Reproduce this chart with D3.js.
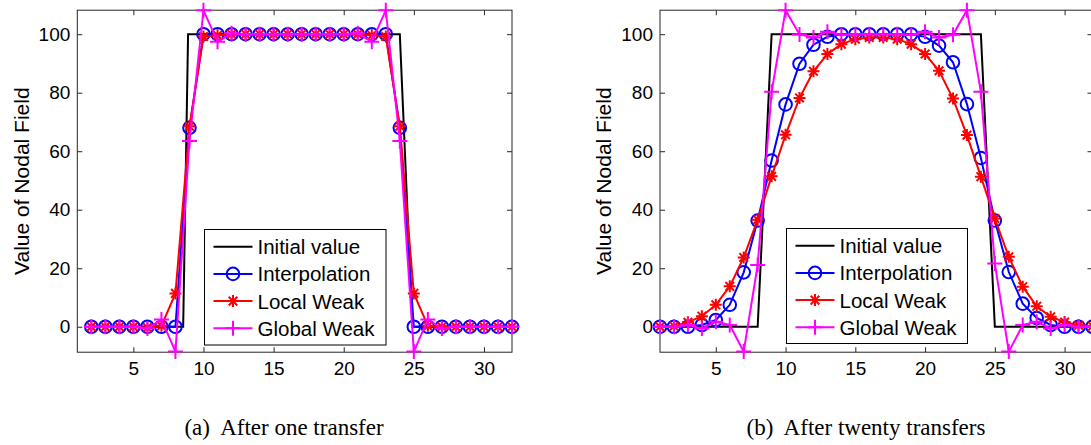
<!DOCTYPE html>
<html>
<head>
<meta charset="utf-8">
<script src="https://cdn.jsdelivr.net/npm/d3@7"></script>
<style>
  body { margin: 0; background: #fff; }
  svg { display: block; }
  .tick text { font-family: "Liberation Sans", Arial, Helvetica, sans-serif; font-size: 19px; fill: #000; }
  .tick line { stroke: #262626; }
</style>
</head>
<body>
<svg id="chart" width="1091" height="445"></svg>
<script>
// ---- data ----
var seriesNames = ["Initial value", "Interpolation", "Local Weak", "Global Weak"];
var xTicks = [5, 10, 15, 20, 25, 30];
var yTicks = [0, 20, 40, 60, 80, 100];
var captions = ["(a)  After one transfer", "(b)  After twenty transfers"];

// (a) after one transfer, nodes 2..32
var nodesA = d3.range(2, 33);
var initXA = [2, 8.55, 8.9, 24, 24.9, 32];
var initYA = [0, 0, 100, 100, 0, 0];
var interpA = [0, 0, 0, 0, 0, 0, 0, 68, 100, 100, 100, 100, 100, 100, 100, 100, 100, 100, 100, 100, 100, 100, 68, 0, 0, 0, 0, 0, 0, 0, 0];
var localA = [0, 0, 0, 0, -0.3, 0.3, 11.4, 68.5, 99.2, 99.6, 100, 100, 100, 100, 100, 100, 100, 100, 100, 100, 99.6, 99.2, 68.5, 11.4, 0.3, 0, 0, 0, 0, 0, 0];
var globalA = [0, 0, 0, 0, -0.6, 2.5, -8.5, 63.5, 108.2, 97.4, 100.3, 100, 100, 100, 100, 100, 100, 100, 100, 100.3, 97.4, 108.2, 63.5, -8.5, 2.5, -0.6, 0, 0, 0, 0, 0];

// (b) after twenty transfers, nodes 1..32
var nodesB = d3.range(1, 33);
var initXB = [1, 8, 9, 24, 25, 32];
var initYB = [0, 0, 100, 100, 0, 0];
var interpB = [0, 0, 0, 0.6, 2.3, 7.5, 18.6, 36.3, 56.8, 76, 89.9, 96.4, 99.1, 100, 100, 100, 100, 100, 100, 99.1, 96.1, 90.4, 76.1, 57.7, 36.3, 18.7, 7.9, 3, 0.6, 0, 0, 0];
var localB = [0, 0.2, 1.5, 3.6, 7.5, 13.8, 23.7, 36.6, 51.4, 65.6, 78.2, 87.3, 93.2, 96.6, 98.3, 98.9, 98.9, 98.3, 96.6, 93.2, 87.5, 78, 65.5, 51.3, 37, 23.9, 13.7, 7, 3.4, 1.6, 0.5, 0.2];
var globalB = [0, 0, 0.6, -0.6, 1.7, 0.6, -8.5, 21.1, 80.3, 108.2, 99.9, 98.9, 100.8, 99.8, 100, 100, 100, 100, 99.8, 100.8, 98.9, 99.8, 108.2, 80.3, 21.6, -8.5, 0.6, 1.7, -0.6, 0.6, 0, 0];

var colors = ["#000000", "#0000ff", "#ff0000", "#ff00ff"];
var markers = [null, "circle", "star", "plus"];

var svg = d3.select("#chart");

var panels = [
  { left: 77.3, right: 512, top: 10.2, bottom: 352.2, nodes: nodesA, initX: initXA, initY: initYA,
    series: [interpA, localA, globalA], legend: [204.5, 229.5, 181.5, 115.5], labelX: 21, cap: 284 },
  { left: 660, right: 1092.5, top: 10.2, bottom: 352.2, nodes: nodesB, initX: initXB, initY: initYB,
    series: [interpB, localB, globalB], legend: [786.5, 228.5, 181, 115], labelX: 603, cap: 866 }
];

function drawMarker(g, type, cx, cy, color) {
  if (type == "circle") {
    g.append("circle").attr("cx", cx).attr("cy", cy).attr("r", 6.3)
      .attr("fill", "none").attr("stroke", color).attr("stroke-width", 2);
  } else if (type == "star") {
    var s = 6, d = s * 0.72;
    g.append("path")
      .attr("d", "M" + (cx - s) + "," + cy + "H" + (cx + s) + "M" + cx + "," + (cy - s) + "V" + (cy + s) +
        "M" + (cx - d) + "," + (cy - d) + "L" + (cx + d) + "," + (cy + d) +
        "M" + (cx - d) + "," + (cy + d) + "L" + (cx + d) + "," + (cy - d))
      .attr("stroke", color).attr("stroke-width", 2).attr("fill", "none");
  } else if (type == "plus") {
    var p = 7.5;
    g.append("path")
      .attr("d", "M" + (cx - p) + "," + cy + "H" + (cx + p) + "M" + cx + "," + (cy - p) + "V" + (cy + p))
      .attr("stroke", color).attr("stroke-width", 2).attr("fill", "none");
  }
}

panels.forEach(function(p, pi) {
  var x = d3.scaleLinear().domain([1, 32]).range([p.left, p.right]);
  var y = d3.scaleLinear().domain([-8.7, 108.2]).range([p.bottom, p.top]);
  var g = svg.append("g");

  // axes with inward ticks on all four sides
  g.append("g").attr("transform", "translate(0," + p.bottom + ")")
    .call(d3.axisBottom(x).tickValues(xTicks).tickSizeInner(-5).tickSizeOuter(0).tickPadding(9))
    .call(function(a) { a.select(".domain").remove(); });
  g.append("g").attr("transform", "translate(0," + p.top + ")")
    .call(d3.axisTop(x).tickValues(xTicks).tickSizeInner(-5).tickSizeOuter(0).tickFormat(""))
    .call(function(a) { a.select(".domain").remove(); });
  g.append("g").attr("transform", "translate(" + p.left + ",0)")
    .call(d3.axisLeft(y).tickValues(yTicks).tickSizeInner(-5).tickSizeOuter(0).tickPadding(7))
    .call(function(a) { a.select(".domain").remove(); });
  g.append("g").attr("transform", "translate(" + p.right + ",0)")
    .call(d3.axisRight(y).tickValues(yTicks).tickSizeInner(-5).tickSizeOuter(0).tickFormat(""))
    .call(function(a) { a.select(".domain").remove(); });

  g.append("rect").attr("x", p.left).attr("y", p.top)
    .attr("width", p.right - p.left).attr("height", p.bottom - p.top)
    .attr("fill", "none").attr("stroke", "#262626").attr("stroke-width", 1);

  var line = d3.line().x(function(d) { return x(d[0]); }).y(function(d) { return y(d[1]); });

  // initial value
  g.append("path").datum(d3.zip(p.initX, p.initY)).attr("d", line)
    .attr("fill", "none").attr("stroke", colors[0]).attr("stroke-width", 2);

  p.series.forEach(function(vals, si) {
    var pts = d3.zip(p.nodes, vals);
    var c = colors[si + 1];
    g.append("path").datum(pts).attr("d", line)
      .attr("fill", "none").attr("stroke", c).attr("stroke-width", 2);
    var mg = g.append("g");
    pts.forEach(function(d) { drawMarker(mg, markers[si + 1], x(d[0]), y(d[1]), c); });
  });

  // y label
  g.append("text")
    .attr("transform", "translate(" + p.labelX + "," + ((p.top + p.bottom) / 2) + ") rotate(-90)")
    .attr("text-anchor", "middle").attr("dominant-baseline", "central")
    .style("font-family", "Liberation Sans, Arial, sans-serif").style("font-size", "21px")
    .text("Value of Nodal Field");

  // legend
  var L = p.legend;
  var lg = g.append("g");
  lg.append("rect").attr("x", L[0]).attr("y", L[1]).attr("width", L[2]).attr("height", L[3])
    .attr("fill", "#fff").attr("stroke", "#000").attr("stroke-width", 1);
  seriesNames.forEach(function(name, i) {
    var cy = L[1] + 17.2 + i * 27.2;
    var x0 = L[0] + 9, x1 = L[0] + 48;
    lg.append("line").attr("x1", x0).attr("x2", x1).attr("y1", cy).attr("y2", cy)
      .attr("stroke", colors[i]).attr("stroke-width", 2);
    drawMarker(lg, markers[i], (x0 + x1) / 2, cy, colors[i]);
    lg.append("text").attr("x", L[0] + 53).attr("y", cy + 7.5)
      .style("font-family", "Liberation Sans, Arial, sans-serif").style("font-size", "20.5px")
      .text(name);
  });

  // caption
  svg.append("text").attr("x", p.cap).attr("y", 435).attr("text-anchor", "middle")
    .style("font-family", "Liberation Serif, Times New Roman, serif").style("font-size", "23px")
    .style("white-space", "pre")
    .text(captions[pi]);
});
</script>
</body>
</html>
